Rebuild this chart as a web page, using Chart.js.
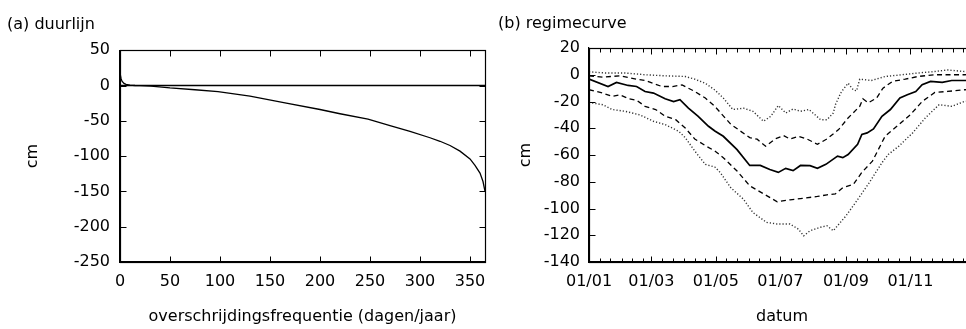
<!DOCTYPE html>
<html>
<head>
<meta charset="utf-8">
<script src="https://cdn.jsdelivr.net/npm/chart.js@4"></script>
<style>
  html, body { margin: 0; padding: 0; background: #fff; overflow: hidden; }
  #wrap { position: relative; width: 966px; height: 329px; overflow: hidden; }
  canvas { position: absolute; top: 0; }
  #duur, #duurFrame { left: 0; }
  #regime, #regimeFrame { left: 490px; }
  #duurFrame, #regimeFrame { z-index: 2; pointer-events: none; }
</style>
</head>
<body>
<div id="wrap">
  <canvas id="duur" width="490" height="329"></canvas>
  <canvas id="regime" width="490" height="329"></canvas>
  <canvas id="duurFrame" width="490" height="329"></canvas>
  <canvas id="regimeFrame" width="490" height="329"></canvas>
</div>
<script>
// (a) duurlijn
const duurDays = [0, 1, 2, 4, 6, 10, 15, 20, 31, 50, 75, 98, 130, 165, 200, 220, 248, 270, 290, 310, 320, 330, 340, 350, 355, 360, 363, 365];
const duurCm = [18, 10, 6, 3, 1.5, 0.5, 0, -0.3, -1, -3.5, -6, -8.6, -15, -24.7, -34, -40, -47.6, -57, -65, -74, -79, -85, -93, -104, -113, -124, -136, -150];
const zeroDays = [0, 365];
const zeroCm = [0, 0];

// (b) regimecurve - each line has its own day list
const topDotDays = [0, 16, 34, 53, 72, 91, 100, 110, 119, 127, 136, 146, 155, 165, 172, 179, 186, 193, 200, 208, 219, 225, 231, 233, 238, 240, 245, 250, 253, 256, 267, 280, 296, 311, 327, 339, 355, 365];
const topDotCm = [2.2, 1.3, 1.3, 0, -0.8, -1.3, -3.3, -6.4, -11.4, -17.4, -26, -25, -27.3, -34.8, -31, -23, -28.6, -25.6, -27.3, -26, -33.6, -33.6, -28.6, -22.4, -13.7, -11.4, -6.3, -11.4, -12, -3.3, -4.3, -1.3, 0, 1.3, 2.4, 3.6, 2.4, 2.5];

const topDashDays = [0, 13, 29, 45, 53, 69, 79, 88, 100, 110, 119, 134, 143, 152, 159, 167, 176, 184, 190, 198, 206, 216, 225, 236, 245, 256, 259, 264, 272, 278, 287, 299, 311, 327, 339, 355, 365];
const topDashCm = [-0.8, -1.8, -0.8, -3.3, -4.3, -8.8, -8.8, -7.6, -12.5, -17.4, -23.6, -37, -42, -47, -48.2, -53.4, -48, -45.5, -48, -46, -48, -52, -48, -41, -32.3, -23.6, -18, -21, -17.4, -10, -5, -3.3, -1.3, 0, 0, 0, 0.5];

const medianDays = [0, 18, 26, 37, 45, 53, 61, 72, 80, 86, 94, 103, 113, 119, 127, 140, 152, 162, 171, 179, 186, 193, 200, 209, 216, 224, 235, 240, 245, 254, 258, 263, 269, 277, 285, 294, 301, 309, 315, 323, 334, 343, 356, 365];
const medianCm = [-3.3, -8.8, -5.8, -8, -8.8, -12.5, -13.7, -18, -20, -18.7, -24.9, -31, -38.5, -42, -46, -56, -67.8, -67.8, -70.8, -73, -70, -71.7, -67.8, -68, -70, -67, -60.8, -62, -59.6, -52, -44.7, -43.5, -40.5, -31, -26, -17.4, -15, -12.5, -7.5, -5, -5.7, -4.3, -4.3, -4];

const lowDashDays = [0, 13, 22, 29, 38, 45, 53, 63, 72, 82, 91, 100, 110, 119, 127, 140, 152, 165, 178, 190, 203, 216, 225, 233, 240, 250, 258, 268, 280, 293, 304, 315, 327, 339, 355, 365];
const lowDashCm = [-11.2, -13.7, -16.2, -15, -18, -19, -23.6, -26, -31, -33.6, -39.8, -48, -53, -57, -62, -72, -83, -89, -95, -93.5, -92.3, -91, -89.8, -89, -84.4, -82, -73, -64.6, -46, -37.3, -29.8, -20, -13.2, -12.5, -11.2, -11];

const lowDotDays = [0, 13, 22, 34, 48, 61, 72, 85, 91, 100, 110, 119, 124, 134, 146, 155, 168, 178, 190, 198, 203, 209, 219, 225, 231, 243, 252, 265, 277, 283, 293, 306, 318, 331, 343, 355, 365];
const lowDotCm = [-20.7, -22.4, -26, -27.3, -30, -34.8, -37.3, -42.3, -47, -57, -67, -69, -73, -84.4, -93, -103, -110.4, -111.6, -111.6, -115.4, -120.4, -116.6, -114, -112.9, -116.6, -105.5, -95.6, -80.7, -65.8, -59.6, -53.4, -43.5, -32.3, -22.4, -23.6, -20, -19];

// x-axis ticks of panel b: start of each dekade, labels on every second month
const monthStarts = [0, 31, 59, 90, 120, 151, 181, 212, 243, 273, 304, 334];
const labelDays = [0, 59, 120, 181, 243, 304];
const labelTexts = ['01/01', '01/03', '01/05', '01/07', '01/09', '01/11'];

Chart.defaults.font.family = 'DejaVu Sans';
Chart.defaults.font.size = 16;
Chart.defaults.color = '#000';

function pts(xs, ys) {
    return xs.map((x, i) => ({x: x, y: ys[i]}));
}

function lineSet(xs, ys, width, dash, color) {
    return {
        data: pts(xs, ys),
        borderColor: color,
        borderWidth: width,
        borderDash: dash,
        pointRadius: 0,
        tension: 0,
        fill: false
    };
}

function fixHeight(h) {
    return s => { s.height = h; s.paddingLeft = 0; s.paddingRight = 0; };
}

const noGrid = {display: false, drawTicks: false};
const axisLine = {display: true, color: '#000', width: 1.2};

// Panel (a)
const duurChart = new Chart(document.getElementById('duur'), {
    type: 'line',
    data: {
        datasets: [
            lineSet(zeroDays, zeroCm, 1.3, [], '#000'),
            lineSet(duurDays, duurCm, 1.3, [], '#000')
        ]
    },
    options: {
        responsive: false,
        animation: false,
        layout: {padding: {left: 7, right: 5, top: 0, bottom: 0}},
        plugins: {
            legend: {display: false},
            tooltip: {enabled: false},
            title: {
                display: true,
                text: '(a) duurlijn',
                align: 'start',
                font: {size: 16, weight: 'normal'},
                padding: {top: 15.5, bottom: 15.5}
            }
        },
        scales: {
            x: {
                type: 'linear',
                min: 0,
                max: 365,
                grid: noGrid,
                border: axisLine,
                ticks: {stepSize: 50, includeBounds: false, padding: 10.4, maxRotation: 0},
                title: {display: true, text: 'overschrijdingsfrequentie (dagen/jaar)', padding: {top: 4, bottom: 2.4}},
                afterFit: fixHeight(67)
            },
            y: {
                min: -250,
                max: 50,
                grid: noGrid,
                border: axisLine,
                ticks: {stepSize: 50, padding: 10},
                title: {display: true, text: 'cm', padding: {top: 15.9, bottom: 4}},
                afterFit: s => { s.width = 113; }
            }
        }
    }
});

// Panel (b)
const dekades = [];
monthStarts.forEach(m => { dekades.push(m, m + 10, m + 20); });

const regimeChart = new Chart(document.getElementById('regime'), {
    type: 'line',
    data: {
        datasets: [
            lineSet(topDotDays, topDotCm, 1.4, [1.2, 2], '#333'),
            lineSet(topDashDays, topDashCm, 1.3, [5, 3.5], '#000'),
            lineSet(medianDays, medianCm, 1.7, [], '#000'),
            lineSet(lowDashDays, lowDashCm, 1.3, [5, 3.5], '#000'),
            lineSet(lowDotDays, lowDotCm, 1.4, [1.2, 2], '#333')
        ]
    },
    options: {
        responsive: false,
        animation: false,
        layout: {padding: {left: 8, right: 5, top: 0, bottom: 0}},
        plugins: {
            legend: {display: false},
            tooltip: {enabled: false},
            title: {
                display: true,
                text: '(b) regimecurve',
                align: 'start',
                font: {size: 16, weight: 'normal'},
                padding: {top: 14.4, bottom: 14.4}
            }
        },
        scales: {
            x: {
                type: 'linear',
                min: 0,
                max: 365,
                grid: noGrid,
                border: axisLine,
                afterBuildTicks: s => { s.ticks = dekades.map(v => ({value: v})); },
                ticks: {
                    autoSkip: false,
                    maxRotation: 0,
                    padding: 10.4,
                    callback: v => {
                        const i = labelDays.indexOf(v);
                        return i >= 0 ? labelTexts[i] : '';
                    }
                },
                title: {display: true, text: 'datum', padding: {top: 4, bottom: 2.4}},
                afterFit: fixHeight(67)
            },
            y: {
                min: -140,
                max: 20,
                grid: noGrid,
                border: axisLine,
                ticks: {stepSize: 20, padding: 9},
                title: {display: true, text: 'cm', padding: {top: 18.4, bottom: 4}},
                afterFit: s => { s.width = 91; }
            }
        }
    }
});

// box round each plot with small inward ticks, on a canvas laid over the chart,
// positioned from the chart's own scales
function drawFrame(chart, frameId) {
    const c = document.getElementById(frameId);
    const ctx = c.getContext('2d');
    const a = chart.chartArea;
    const sx = chart.scales.x;
    const sy = chart.scales.y;
    const L = Math.round(a.left) + 0.5, R = Math.round(a.right) + 0.5;
    const T = Math.round(a.top) + 0.5, B = Math.round(a.bottom) + 0.5;
    ctx.clearRect(0, 0, c.width, c.height);
    ctx.strokeStyle = '#000';
    ctx.lineWidth = 1.2;
    ctx.strokeRect(L, T, R - L, B - T);
    ctx.lineWidth = 1;
    ctx.beginPath();
    sx.ticks.forEach(t => {
        const px = Math.round(sx.getPixelForValue(t.value)) + 0.5;
        const len = t.label ? 6 : 4;
        ctx.moveTo(px, B); ctx.lineTo(px, B - len);
        ctx.moveTo(px, T); ctx.lineTo(px, T + len);
    });
    sy.ticks.forEach(t => {
        const py = Math.round(sy.getPixelForValue(t.value)) + 0.5;
        ctx.moveTo(L, py); ctx.lineTo(L + 6, py);
        ctx.moveTo(R, py); ctx.lineTo(R - 6, py);
    });
    ctx.stroke();
}

function drawFrames() {
    drawFrame(duurChart, 'duurFrame');
    drawFrame(regimeChart, 'regimeFrame');
}
drawFrames();
requestAnimationFrame(drawFrames);
setTimeout(drawFrames, 200);
</script>
</body>
</html>
